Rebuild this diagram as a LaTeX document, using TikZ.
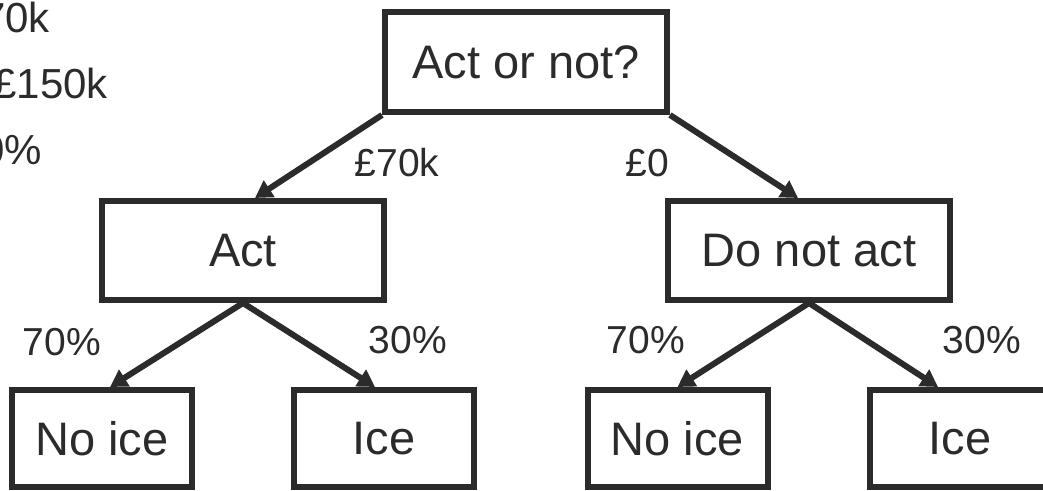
\documentclass[tikz,border=0pt]{standalone}
\usepackage{fontspec}
\setmainfont{Liberation Sans}
\usetikzlibrary{arrows.meta}
\definecolor{ink}{HTML}{2B2B2B}
\tikzset{
  choice/.style={draw=ink, line width=6pt, text=ink, rectangle, inner sep=0pt,
    minimum width=282pt, minimum height=99pt, font=\fontsize{47}{52}\selectfont},
  outcome/.style={choice, minimum width=180pt, minimum height=97pt},
  branch/.style={draw=ink, line width=6pt, -{Triangle[length=17pt,width=19pt]}},
  tag/.style={text=ink, inner sep=0pt, font=\fontsize{39}{44}\selectfont},
  key/.style={tag, anchor=east, font=\fontsize{42}{48}\selectfont},
}
\begin{document}
\begin{tikzpicture}[x=1pt,y=-1pt]
  \useasboundingbox (0,0) rectangle (1043,490);
  \clip (0,0) rectangle (1043,490);
  \node[choice, minimum height=100pt] (root) at (526,62) {Act or not?};
  \node[choice] (act) at (243,250.5) {Act};
  \node[choice] (dontact) at (809,250.5) {Do not act};
  \node[outcome] (noiceA) at (102,438.5) {No ice};
  \node[outcome] (iceA) at (384,438.5) {Ice};
  \node[outcome] (noiceB) at (677.5,438.5) {No ice};
  \node[outcome] (iceB) at (960,438.5) {Ice};
  \begin{scope}[branch]
    \draw (root.south west) to ([xshift=12pt]act.north);
    \draw (root.south east) to ([xshift=-11pt]dontact.north);
    \draw (act.south) to ([xshift=8pt]noiceA.north);
    \draw (act.south) to ([xshift=-9pt]iceA.north);
    \draw (dontact.south) to (noiceB.north);
    \draw (dontact.south) to ([xshift=-22pt]iceB.north);
  \end{scope}
  \node[tag] (costact) at (397,163) {£70k};
  \node[tag] (costnone) at (647,163) {£0};
  \node[tag] (pnoA) at (62,342) {70\%};
  \node[tag] (pyesA) at (408,340) {30\%};
  \node[tag] (pnoB) at (646,340) {70\%};
  \node[tag] (pyesB) at (982,340) {30\%};
  \node[key] (keyact) at (50,17) {70k};
  \node[key] (keyloss) at (108,83) {£150k};
  \node[key] (keyprob) at (42,150) {0\%};
\end{tikzpicture}
\end{document}
